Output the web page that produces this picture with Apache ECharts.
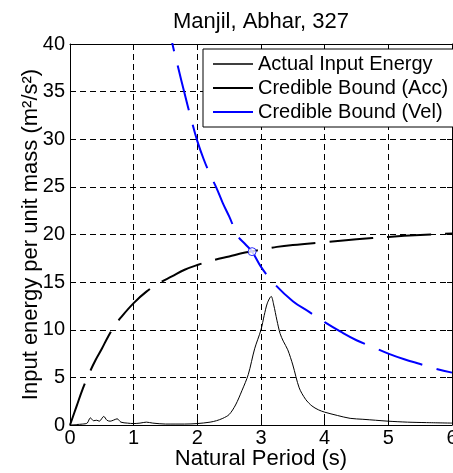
<!DOCTYPE html>
<html>
<head>
<meta charset="utf-8">
<script src="https://cdn.jsdelivr.net/npm/echarts@6/dist/echarts.min.js"></script>
<style>
html,body{margin:0;padding:0;background:#fff;}
#chart{width:453px;height:473px;}
</style>
</head>
<body>
<div id="chart"></div>
<script>
// ---- data ----
var titleText = 'Manjil, Abhar, 327';
var xName = 'Natural Period (s)';
var yName = 'Input energy per unit mass (m\u00B2/s\u00B2)';
var seriesNames = ['Actual Input Energy', 'Credible Bound (Acc)', 'Credible Bound (Vel)'];

var actualT = [0, 0.1, 0.2, 0.27, 0.32, 0.37, 0.42, 0.46, 0.53, 0.58, 0.63, 0.68, 0.74, 0.8, 0.9, 1.0, 1.1, 1.2, 1.3, 1.5, 1.8, 2.0, 2.2, 2.3, 2.4, 2.5, 2.6, 2.7, 2.8, 2.9, 3.0, 3.05, 3.1, 3.16, 3.2, 3.25, 3.3, 3.35, 3.42, 3.5, 3.6, 3.7, 3.8, 3.9, 4.0, 4.2, 4.4, 4.6, 4.8, 5.0, 5.3, 5.6, 6.0];
var actualE = [0, 0.05, 0.1, 0.2, 0.75, 0.45, 0.5, 0.4, 0.9, 0.5, 0.4, 0.5, 0.65, 0.3, 0.2, 0.15, 0.2, 0.3, 0.2, 0.1, 0.1, 0.15, 0.3, 0.45, 0.7, 1.1, 2.1, 3.6, 5.3, 8.0, 10.0, 11.5, 12.8, 13.5, 12.6, 11.0, 9.6, 8.8, 7.9, 6.3, 3.9, 2.7, 2.0, 1.6, 1.35, 1.0, 0.7, 0.6, 0.5, 0.4, 0.3, 0.25, 0.2];

var accT = [0, 0.1, 0.2, 0.3, 0.4, 0.5, 0.6, 0.7, 0.8, 1.0, 1.2, 1.4, 1.6, 1.8, 2.0, 2.25, 2.5, 2.75, 3.0, 3.25, 3.5, 4.0, 4.5, 5.0, 5.5, 6.0];
var accE = [0, 1.9, 3.8, 5.4, 6.8, 8.0, 9.3, 10.4, 11.3, 12.8, 14.0, 14.9, 15.6, 16.3, 16.8, 17.3, 17.7, 18.1, 18.4, 18.7, 18.9, 19.2, 19.5, 19.75, 19.95, 20.1];

var velT = [1.5, 1.6, 1.7, 1.8, 1.9, 2.0, 2.1, 2.2, 2.3, 2.4, 2.5, 2.64, 2.75, 2.86, 3.0, 3.2, 3.5, 3.75, 4.0, 4.25, 4.5, 4.75, 5.0, 5.25, 5.5, 5.75, 6.0];
var velE = [44, 40.3, 37.5, 34.8, 32.2, 29.8, 27.9, 26.3, 24.9, 23.3, 21.9, 19.8, 19.0, 18.2, 16.6, 14.9, 13.0, 11.9, 10.8, 9.8, 8.9, 8.2, 7.5, 6.9, 6.4, 5.9, 5.5];

var crossPoint = [2.86, 18.2];

var xTicks = {min: 0, max: 6, interval: 1};
var yTicks = {min: 0, max: 40, interval: 5};

function pairs(xs, ys) { return xs.map(function (x, i) { return [x, ys[i]]; }); }

var FONT = '"Liberation Sans", Arial, Helvetica, sans-serif';
var FS = 20;     // tick labels, legend
var FS_L = 22;   // title, axis names

// legend line icons (40x14 box, bar in the middle)
var iconThin = 'path://M0,0L40,0L40,0.01ZM0,6.3L40,6.3L40,7.7L0,7.7ZM0,14L40,14L40,13.99Z';
var iconThick = 'path://M0,0L40,0L40,0.01ZM0,6L40,6L40,8L0,8ZM0,14L40,14L40,13.99Z';

var chart = echarts.init(document.getElementById('chart'), null, {renderer: 'canvas'});
var gridLine = {show: true, lineStyle: {color: '#000', width: 1, type: [6, 4]}};
var axisLine = {show: true, onZero: false, lineStyle: {color: '#000', width: 1}};
var tickIn = {show: true, inside: true, length: 5, lineStyle: {color: '#000'}};

chart.setOption({
  animation: false,
  backgroundColor: '#fff',
  title: {
    text: titleText, left: 261, top: 11, textAlign: 'center', padding: 0,
    textStyle: {fontFamily: FONT, fontSize: FS_L, fontWeight: 'normal', color: '#000'}
  },
  grid: {left: 70, right: 1, top: 44, bottom: 48, outerBoundsMode: 'none', containLabel: false},
  legend: {
    data: [
      {name: seriesNames[0], icon: iconThin},
      {name: seriesNames[1], icon: iconThick},
      {name: seriesNames[2], icon: iconThick}
    ],
    orient: 'vertical', left: 203, top: 49,
    padding: [5, 9, 5, 10],
    itemWidth: 40, itemHeight: 14, itemGap: 4,
    itemStyle: {borderWidth: 0},
    backgroundColor: '#fff', borderColor: '#000', borderWidth: 1, borderRadius: 0,
    textStyle: {fontFamily: FONT, fontSize: FS, color: '#000', lineHeight: 20}
  },
  xAxis: [{
    type: 'value', position: 'bottom', min: xTicks.min, max: xTicks.max, interval: xTicks.interval,
    name: xName, nameLocation: 'middle', nameGap: 23, nameMoveOverlap: false,
    nameTextStyle: {fontFamily: FONT, fontSize: FS_L, color: '#000'},
    axisLine: axisLine, axisTick: tickIn, splitLine: gridLine,
    axisLabel: {fontFamily: FONT, fontSize: FS, color: '#000', margin: 3, showMaxLabel: true, hideOverlap: false}
  }, {
    type: 'value', position: 'top', min: xTicks.min, max: xTicks.max, interval: xTicks.interval,
    axisLine: axisLine, axisTick: tickIn, splitLine: {show: false}, axisLabel: {show: false}
  }],
  yAxis: [{
    type: 'value', position: 'left', min: yTicks.min, max: yTicks.max, interval: yTicks.interval,
    name: yName, nameLocation: 'middle', nameGap: 28, nameMoveOverlap: false,
    nameTextStyle: {fontFamily: FONT, fontSize: FS_L, color: '#000'},
    axisLine: axisLine, axisTick: tickIn, splitLine: gridLine,
    axisLabel: {fontFamily: FONT, fontSize: FS, color: '#000', margin: 5}
  }, {
    type: 'value', position: 'right', min: yTicks.min, max: yTicks.max, interval: yTicks.interval,
    axisLine: axisLine, axisTick: tickIn, splitLine: {show: false}, axisLabel: {show: false}
  }],
  series: [{
    name: seriesNames[0], type: 'line', data: pairs(actualT, actualE),
    symbol: 'none', smooth: 0.3, clip: true,
    lineStyle: {color: '#000', width: 1}, itemStyle: {color: '#000'}, z: 3
  }, {
    name: seriesNames[1], type: 'line', data: pairs(accT, accE),
    symbol: 'none', smooth: 0.4, clip: true,
    lineStyle: {color: '#000', width: 2, type: [44, 14]}, itemStyle: {color: '#000'}, z: 4
  }, {
    name: seriesNames[2], type: 'line', data: pairs(velT, velE),
    symbol: 'none', smooth: 0.4, clip: true,
    lineStyle: {color: '#0000ff', width: 2, type: [46, 15]}, itemStyle: {color: '#0000ff'}, z: 5
  }, {
    name: 'intersection', type: 'scatter', data: [crossPoint],
    symbol: 'circle', symbolSize: 8,
    itemStyle: {color: '#fff', borderColor: '#0000ff', borderWidth: 1}, z: 6
  }]
});
</script>
</body>
</html>
